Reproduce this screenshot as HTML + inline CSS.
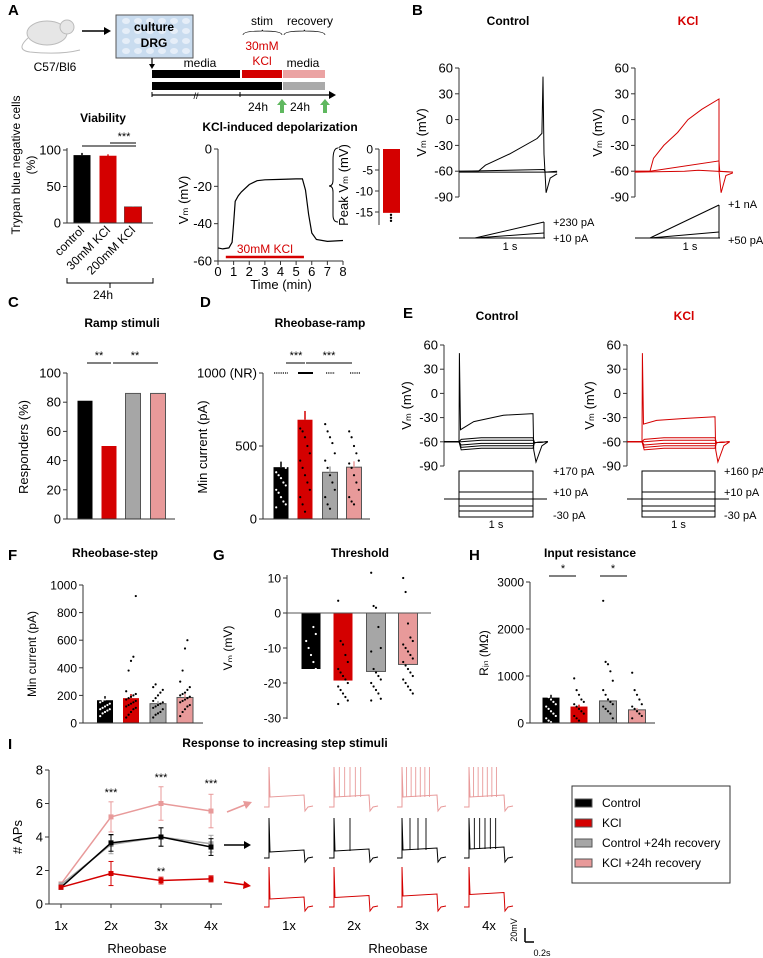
<!DOCTYPE html>
<html><head><meta charset="utf-8"><style>
html,body{margin:0;padding:0;background:#fff;}
svg{display:block;font-family:"Liberation Sans",Arial,sans-serif;}
</style></head><body>
<svg id="fig" width="763" height="958" viewBox="0 0 763 958" xmlns="http://www.w3.org/2000/svg"></svg>
<script>
// ---------- data ----------
const viabCats=['control','30mM KCl','200mM KCl'];
const viabVals=[93,92,22];
const viabErr=[3,2,1];
const depTime=[0,0.3,0.7,0.9,1.0,1.1,1.3,1.5,2,2.5,3,4,5,5.4,5.6,5.8,6,6.3,7,8];
const depVm=[-53,-53.5,-53,-50,-40,-28,-25,-23,-19,-17,-16.5,-16.3,-16,-16,-22,-35,-45,-48.5,-49.5,-49];
const peakVm=[-15.2];
const rampResp=[81,50,86,86];
const rheoRampVals=[355,680,320,355];
const rheoRampDots=[[640,600,400,380,350,320,300,280,250,230,200,180,150,120,100,80],[620,600,560,500,450,400,350,300,250,200,150,100,50],[650,600,560,520,450,400,350,300,250,200,150,100,70],[600,560,500,450,400,380,350,300,250,200,150,120,100]];
const rheoStepVals=[165,180,140,185];
const rheoStepDots=[[50,70,80,90,100,100,110,120,130,140,150,160,170,180,190,200,220,240,260,280,750,850],[40,60,80,100,110,120,130,140,150,160,170,180,190,200,210,230,380,450,480,920],[40,60,70,80,100,110,120,130,140,150,160,180,200,220,240,260,280],[50,80,100,120,130,150,160,170,180,190,200,210,220,240,260,300,380,540,600]];
const threshVals=[-16,-19.3,-16.7,-14.7];
const threshDots=[[8.5,7.5,1.5,-4,-6,-8,-10,-12,-14,-16,-17,-18,-19,-20,-20.5,-21,-22,-23,-24,-24.5],[3.5,-8,-9,-12,-14,-16,-17,-18,-19,-20,-21,-22,-23,-24,-25,-26],[11.5,2,1.5,-4,-10,-11,-16,-17,-18,-19,-20,-21,-22,-23,-24.5,-25],[10,6,-3,-7,-8,-9,-10,-11,-12,-13,-14,-15,-16,-17,-18,-19,-20,-21,-22,-23]];
const rinVals=[540,350,470,280];
const rinDots=[[1550,1050,1000,850,800,600,550,500,450,400,350,300,250,200,150,100,50,20],[950,700,600,500,450,400,350,300,250,200,150,100,50],[2600,1300,1250,1100,900,700,600,500,450,400,350,300,250,200,100],[1070,700,600,500,400,350,300,250,200,150,100]];
const apCats=['1x','2x','3x','4x'];
const apPink=[1.2,5.2,6.0,5.55], apPinkErr=[0.1,0.9,1.0,1.0];
const apBlack=[1.0,3.65,4.0,3.4], apBlackErr=[0.1,0.5,0.55,0.5];
const apGrey=[1.15,3.55,4.0,3.6], apGreyErr=[0.1,0.55,0.55,0.5];
const apRed=[1.0,1.82,1.4,1.5], apRedErr=[0.1,0.72,0.2,0.18];
const spikePink=[1,6,7,7], spikeBlack=[1,2,4,6], spikeRed=[1,1,1,1];
const COLORS=['#000','#d40000','#a6a6a6','#e89a9a'];

// ---------- helpers ----------
const NS='http://www.w3.org/2000/svg';
const svg=document.getElementById('fig');
function mk(tag,attrs,name,parent){
  const el=document.createElementNS(NS,tag);
  for(const k in attrs) el.setAttribute(k,attrs[k]);
  
  
  (parent||svg).appendChild(el); return el;
}
function T(x,y,s,name,o={}){
  const a={x:x,y:y,'font-size':o.size||12,fill:o.fill||'#000','text-anchor':o.anchor||'middle'};
  if(o.bold)a['font-weight']='bold';
  if(o.rot!==undefined)a.transform='rotate('+o.rot+' '+x+' '+y+')';
  const el=mk('text',a,name);
  el.textContent=s; return el;
}
function L(x1,y1,x2,y2,name,stroke,w){return mk('line',{x1:x1,y1:y1,x2:x2,y2:y2,stroke:stroke||'#000','stroke-width':w||1},name);}
function R(x,y,w,h,fill,name,stroke){return mk('rect',{x:x,y:y,width:w,height:h,fill:fill,stroke:stroke||'none'},name);}
function lin(d0,d1,r0,r1){return v=>r0+(v-d0)*(r1-r0)/(d1-d0);}
function P(pts,name,stroke,w){return mk('polyline',{points:pts.map(p=>p[0].toFixed(1)+','+p[1].toFixed(1)).join(' '),fill:'none',stroke:stroke,'stroke-width':w||1},name);}
function yaxis(x,y0,y1,ticks,sc,name,size,labels){
  L(x,y0,x,y1,name+'-line','#333');
  ticks.forEach((t,i)=>{L(x-4,sc(t),x,sc(t),name+'-tick','#333');
    T(x-6,sc(t)+4.5,labels?labels[i]:String(t),name+'-label',{anchor:'end',size:size||13});});
}
function dots(cx,vals,sc,name,fill){
  vals.forEach((v,i)=>{const off=((i%5)-2)*2.4;
    mk('circle',{cx:cx+off,cy:sc(v),r:1.1,fill:fill},name);});
}
function barPanel(o){
  const sc=lin(o.v0,o.v1,o.p0,o.p1);
  const base=sc(o.base!==undefined?o.base:0);
  o.vals.forEach((v,i)=>{
    const y=Math.min(sc(v),base),h=Math.abs(sc(v)-base);
    R(o.centers[i]-o.w/2,y,o.w,h,COLORS[i],o.name+'-bar-'+i,i>1?'#555':'none');
    if(o.errs) L(o.centers[i],sc(v),o.centers[i],sc(v+o.errs[i]),o.name+'-error',COLORS[i],1.5);
    if(o.dots) dots(o.centers[i],o.dots[i],sc,o.name+'-dot',i===0?'#fff':'#000');
  });
  return sc;
}

// ---------- Panel A ----------
T(8,15,'A','panel-label-a',{bold:true,size:15,anchor:'start'});
mk('ellipse',{cx:47,cy:33,rx:20,ry:12,fill:'#e6e6e6',stroke:'#bbb'},'mouse-icon');
mk('circle',{cx:67,cy:27,r:7,fill:'#e6e6e6',stroke:'#bbb'},'mouse-head');
mk('path',{d:'M28 38 Q15 50 30 52 Q60 55 80 50',fill:'none',stroke:'#bbb'},'mouse-tail');
T(55,71,'C57/Bl6','mouse-strain-label',{size:12});
L(82,31,106,31,'arrow-mouse-culture','#000',1.5);
mk('polygon',{points:'111,31 104,27 104,35',fill:'#000'},'arrowhead');
R(116,15,77,43,'#c9dcef','culture-plate','#555');
for(let r=0;r<4;r++)for(let c=0;c<6;c++)mk('ellipse',{cx:126+c*12,cy:21+r*10,rx:4,ry:3,fill:'#e6eef8'},'well');
T(154,31,'culture','culture-label',{bold:true,size:12});
T(154,47,'DRG','drg-label',{bold:true,size:12});
L(152,58,152,66,'down-arrow','#000',1.2);
mk('polygon',{points:'152,69 149,64 155,64',fill:'#000'},'arrowhead');
T(262,25,'stim','stim-label',{size:12});T(310,25,'recovery','recovery-label',{size:12});
mk('path',{d:'M243 35 Q243 31 262 31 Q262 29 263 31 Q282 31 282 35',fill:'none',stroke:'#000','stroke-width':0.7},'brace-stim');
mk('path',{d:'M284 35 Q284 31 304 31 Q304 29 305 31 Q325 31 325 35',fill:'none',stroke:'#000','stroke-width':0.7},'brace-recovery');
T(262,50,'30mM','kcl-conc-label',{size:12,fill:'#d40000'});T(262,65,'KCl','kcl-label',{size:12,fill:'#d40000'});
T(200,67,'media','media-label',{size:12});T(303,67,'media','media-label-2',{size:12});
R(152,70,88,8,'#000','timeline-media');R(242,70,40,8,'#d40000','timeline-kcl');R(283,70,42,8,'#eba3a3','timeline-recovery-kcl');
R(152,82,130,8,'#000','timeline-control');R(283,82,42,8,'#aaa','timeline-recovery-control');
L(152,95,330,95,'timeline-axis','#000',1.3);mk('polygon',{points:'336,95 329,91 329,99',fill:'#000'},'arrowhead');
L(152,92,152,97,'timeline-tick');L(240,92,240,97,'timeline-tick');
T(196,99,'//','axis-break',{size:9});
T(258,111,'24h','24h-label',{size:12});T(300,111,'24h','24h-label-2',{size:12});
[282,325].forEach(x=>mk('polygon',{points:(x)+',99 '+(x-5)+',105 '+(x-2)+',105 '+(x-2)+',113 '+(x+2)+',113 '+(x+2)+',105 '+(x+5)+',105',fill:'#5fb85f'},'green-arrow'));

// Viability
T(103,122,'Viability','viability-title',{bold:true,size:12});
const scV=barPanel({v0:0,v1:100,p0:223,p1:150,vals:viabVals,errs:viabErr,centers:[82,108,133],w:17,name:'viability'});
R(99.5,scV(92),17,223-scV(92),'#d40000','viability-bar-1');R(124.5,scV(22),17,223-scV(22),'#d40000','viability-bar-2');
yaxis(67,148,223,[0,50,100],scV,'viability-y');
L(67,223,153,223,'viability-x-axis','#333');
viabCats.forEach((c,i)=>T([82,108,133][i]+3,231,c,'viability-x-label',{anchor:'end',size:12,rot:-45}));
L(82,146,136,146,'viability-sig-line');L(110,143,136,143,'viability-sig-line-2');
T(124,140,'***','viability-sig',{size:11});
T(20,165,'Trypan blue negative cells','viability-y-title',{size:12,rot:-90});
T(35,165,'(%)','viability-y-unit',{size:12,rot:-90});
mk('path',{d:'M67 278 L67 283 L153 283 L153 278 M110 283 L110 288',fill:'none',stroke:'#000'},'brace-24h');
T(103,299,'24h','viability-24h',{size:12});

// KCl depolarization
T(280,131,'KCl-induced depolarization','depolarization-title',{bold:true,size:12});
const dX=lin(0,8,218,343), dY=lin(0,-60,149,261);
yaxis(218,149,261,[0,-20,-40,-60],dY,'dep-y');
L(218,261,343,261,'dep-x-axis','#333');
for(let t=0;t<=8;t++){L(dX(t),261,dX(t),265,'dep-x-tick','#333');T(dX(t),276,String(t),'dep-x-label',{size:13});}
T(281,289,'Time (min)','dep-x-title',{size:13});
T(188,200,'Vₘ (mV)','dep-y-title',{size:13,rot:-90});
P(depTime.map((t,i)=>[dX(t),dY(depVm[i])]),'depolarization-trace','#000',1.2);
L(dX(0.5),257,dX(5.5),257,'kcl-application-bar','#d40000',2.5);
T(dX(3),253,'30mM KCl','kcl-application-label',{size:12,fill:'#d40000'});
const pY=lin(0,-15,149,212);
yaxis(379,149,225,[0,-5,-10,-15],pY,'peak-y',12);
R(383,149,17,pY(peakVm[0])-149,'#d40000','peak-bar');
[0,1,2].forEach(i=>mk('circle',{cx:391,cy:pY(peakVm[0])+2+i*3,r:1.2,fill:'#000'},'peak-dot'));
T(348,185,'Peak Vₘ (mV)','peak-y-title',{size:13,rot:-90});
mk('path',{d:'M338 148 Q333 148 333 160 L333 180 Q333 186 329 186 Q333 186 333 192 L333 215 Q333 222 338 222',fill:'none',stroke:'#000'},'peak-brace');

// ---------- Panel B ----------
T(412,15,'B','panel-label-b',{bold:true,size:15,anchor:'start'});
function tracePanel(o){
  const y=lin(60,-90,o.top,o.bot);
  yaxis(o.ax,o.top,o.bot,[60,30,0,-30,-60,-90],y,o.name+'-y');
  T(o.ax-33,(o.top+o.bot)/2,'Vₘ (mV)',o.name+'-y-title',{size:13,rot:-90});
  const x=lin(0,1,o.x0,o.x1);
  o.traces.forEach(tr=>P(tr.map(p=>[x(p[0]),y(p[1])]),o.name+'-trace',o.color,1));
  return x;
}
T(508,25,'Control','b-control-title',{bold:true,size:12});
T(688,25,'KCl','b-kcl-title',{bold:true,size:12,fill:'#d40000'});
const bCtrl=[[[-0.23,-60],[0.05,-60],[0.15,-53],[0.5,-40],[0.9,-22],[0.97,-16],[0.985,50],[1.0,-40],[1.03,-85],[1.09,-68],[1.19,-63]],[[-0.23,-61],[1.19,-61]],[[-0.23,-60],[1.0,-58],[1.02,-61],[1.19,-60]]];
tracePanel({ax:459,top:68,bot:197,x0:475,x1:544,traces:bCtrl,color:'#000',name:'b-control'});
const bKcl=[[[-0.22,-60],[0,-60],[0.05,-45],[0.2,-30],[0.4,-15],[0.55,0],[0.75,12],[1.0,24],[1.0,-60],[1.03,-85],[1.1,-65],[1.2,-62]],[[-0.22,-60],[0,-60],[1,-48],[1.01,-60],[1.2,-61]],[[-0.22,-61],[0.5,-60],[0.7,-59],[1.2,-61]]];
tracePanel({ax:635,top:68,bot:197,x0:650,x1:719,traces:bKcl,color:'#d40000',name:'b-kcl'});
// ramp schematics
L(459,238,545,238,'ramp-baseline');L(475,238,544,222,'ramp-high');L(475,238,544,233,'ramp-low');L(544,222,544,238,'ramp-end');
T(553,226,'+230 pA','ramp-label-high',{size:11,anchor:'start'});T(553,242,'+10 pA','ramp-label-low',{size:11,anchor:'start'});T(510,250,'1 s','ramp-duration',{size:11});
L(635,238,720,238,'ramp-baseline-kcl');L(650,238,719,205,'ramp-high-kcl');L(650,238,719,232,'ramp-low-kcl');L(719,205,719,238,'ramp-end-kcl');
T(728,208,'+1 nA','ramp-label-high-kcl',{size:11,anchor:'start'});T(728,244,'+50 pA','ramp-label-low-kcl',{size:11,anchor:'start'});T(690,250,'1 s','ramp-duration-kcl',{size:11});

// ---------- Panel C ----------
T(8,307,'C','panel-label-c',{bold:true,size:15,anchor:'start'});
T(122,327,'Ramp stimuli','ramp-title',{bold:true,size:12});
const scC=barPanel({v0:0,v1:100,p0:519,p1:373,vals:rampResp,centers:[85,109,133,158],w:15,name:'responders'});
yaxis(67,373,519,[0,20,40,60,80,100],scC,'responders-y');
L(67,519,175,519,'responders-x-axis','#333');
T(28,447,'Responders (%)','responders-y-title',{size:13,rot:-90});
L(87,363,111,363,'responders-sig-line');T(99,359,'**','responders-sig',{size:11});
L(113,363,158,363,'responders-sig-line-2');T(135,359,'**','responders-sig-2',{size:11});

// ---------- Panel D ----------
T(200,307,'D','panel-label-d',{bold:true,size:15,anchor:'start'});
T(320,327,'Rheobase-ramp','rheobase-ramp-title',{bold:true,size:12});
const scD=barPanel({v0:0,v1:1000,p0:519,p1:373,vals:rheoRampVals,errs:[40,60,40,40],dots:rheoRampDots,centers:[281,305,330,354],w:15,name:'rheobase-ramp'});
yaxis(263,373,519,[0,500,1000],scD,'rheobase-ramp-y',13,['0','500','1000 (NR)']);
L(263,519,370,519,'rheobase-ramp-x-axis','#333');
[[274,288],[298,313],[326,335],[350,360]].forEach((s,i)=>L(s[0],373,s[1],373,'nr-dots-'+i,'#000',i===1?2:1.2).setAttribute('stroke-dasharray',i===1?'':'1.2 1'));
T(207,447,'Min current (pA)','rheobase-ramp-y-title',{size:13,rot:-90});
L(286,363,305,363,'rheobase-ramp-sig-line');T(296,359,'***','rheobase-ramp-sig',{size:11});
L(306,363,352,363,'rheobase-ramp-sig-line-2');T(329,359,'***','rheobase-ramp-sig-2',{size:11});

// ---------- Panel E ----------
T(403,318,'E','panel-label-e',{bold:true,size:15,anchor:'start'});
T(497,320,'Control','e-control-title',{bold:true,size:12});
T(684,320,'KCl','e-kcl-title',{bold:true,size:12,fill:'#d40000'});
function stepTraces(top,plat){
  const tr=[[[-0.2,-60],[0,-60],[0.005,50],[0.02,top],[0.2,top+(plat-top)*0.5],[0.6,plat-2],[1,plat],[1.01,-70],[1.04,-85],[1.12,-65],[1.2,-60]]];
  [-55,-58,-62,-65,-68].forEach(l=>tr.push([[-0.2,-60],[0,-60],[0.03,l-2],[0.3,l],[1,l],[1.02,-61],[1.2,-60]]));
  return tr;
}
tracePanel({ax:444,top:345,bot:466,x0:459,x1:533,traces:stepTraces(-45,-25),color:'#000',name:'e-control'});
tracePanel({ax:627,top:345,bot:466,x0:642,x1:715,traces:stepTraces(-38,-29),color:'#d40000',name:'e-kcl'});
function stepSchem(x0,x1,lab,xl,nm){
  L(x0-15,499,x1+14,499,nm+'-baseline');
  R(x0,471,x1-x0,46,'none',nm+'-box','#000');
  [492,506,511].forEach(y=>L(x0,y,x1,y,nm+'-step'));
  T(xl,475,lab,nm+'-label-top',{size:11,anchor:'start'});T(xl,496,'+10 pA',nm+'-label-mid',{size:11,anchor:'start'});T(xl,519,'-30 pA',nm+'-label-low',{size:11,anchor:'start'});
  T((x0+x1)/2,528,'1 s',nm+'-duration',{size:11});
}
stepSchem(459,533,'+170 pA',553,'step-control');stepSchem(642,715,'+160 pA',724,'step-kcl');

// ---------- Panel F ----------
T(8,560,'F','panel-label-f',{bold:true,size:15,anchor:'start'});
T(115,557,'Rheobase-step','rheobase-step-title',{bold:true,size:12});
const scF=barPanel({v0:0,v1:1000,p0:723,p1:585,vals:rheoStepVals,errs:[30,30,20,25],dots:rheoStepDots,centers:[105,131,158,185],w:16,name:'rheobase-step'});
yaxis(83,585,723,[0,200,400,600,800,1000],scF,'rheobase-step-y',12);
L(83,723,203,723,'rheobase-step-x-axis','#333');
T(36,654,'Min current (pA)','rheobase-step-y-title',{size:12,rot:-90});

// ---------- Panel G ----------
T(213,560,'G','panel-label-g',{bold:true,size:15,anchor:'start'});
T(360,557,'Threshold','threshold-title',{bold:true,size:12});
const scG=barPanel({v0:0,v1:10,p0:613,p1:578,vals:threshVals,dots:threshDots,centers:[311,343,376,408],w:19,name:'threshold'});
yaxis(287,575,719,[10,0,-10,-20,-30],scG,'threshold-y',12);
L(287,613,431,613,'threshold-zero-line','#555');
T(232,648,'Vₘ (mV)','threshold-y-title',{size:12,rot:-90});

// ---------- Panel H ----------
T(469,560,'H','panel-label-h',{bold:true,size:15,anchor:'start'});
T(590,557,'Input resistance','rin-title',{bold:true,size:12});
const scH=barPanel({v0:0,v1:3000,p0:723,p1:582,vals:rinVals,errs:[60,40,60,40],dots:rinDots,centers:[551,579,608,637],w:17,name:'rin'});
yaxis(530,582,723,[0,1000,2000,3000],scH,'rin-y',12);
L(530,723,655,723,'rin-x-axis','#333');
T(488,653,'Rᵢₙ (MΩ)','rin-y-title',{size:12,rot:-90});
L(549,576,576,576,'rin-sig-line');T(563,572,'*','rin-sig',{size:11});
L(600,576,627,576,'rin-sig-line-2');T(613,572,'*','rin-sig-2',{size:11});

// ---------- Panel I ----------
T(8,749,'I','panel-label-i',{bold:true,size:15,anchor:'start'});
T(285,747,'Response to increasing step stimuli','i-title',{bold:true,size:12});
const iX=i=>61+i*50, iY=lin(0,8,904,770);
yaxis(49,770,904,[0,2,4,6,8],iY,'aps-y',13);
L(49,904,222,904,'aps-x-axis','#333');
apCats.forEach((c,i)=>{L(iX(i),904,iX(i),908,'aps-x-tick','#333');T(iX(i),930,c,'aps-x-label',{size:13});});
T(137,953,'Rheobase','aps-x-title',{size:13});
T(22,837,'# APs','aps-y-title',{size:13,rot:-90});
function series(vals,errs,col,nm){
  P(vals.map((v,i)=>[iX(i),iY(v)]),nm+'-line',col,1.5);
  vals.forEach((v,i)=>{L(iX(i),iY(v-errs[i]),iX(i),iY(v+errs[i]),nm+'-error',col,1);
    L(iX(i)-2.5,iY(v+errs[i]),iX(i)+2.5,iY(v+errs[i]),nm+'-cap',col);L(iX(i)-2.5,iY(v-errs[i]),iX(i)+2.5,iY(v-errs[i]),nm+'-cap',col);
    R(iX(i)-2.5,iY(v)-2.5,5,5,col,nm+'-point');});
}
series(apPink,apPinkErr,'#e89a9a','kcl-recovery');series(apGrey,apGreyErr,'#a6a6a6','control-recovery');
series(apBlack,apBlackErr,'#000','control');series(apRed,apRedErr,'#d40000','kcl');
T(iX(1),796,'***','sig-2x',{size:11});T(iX(2),781,'***','sig-3x',{size:11});T(iX(3),787,'***','sig-4x',{size:11});T(iX(2),875,'**','sig-kcl-3x',{size:11});
// arrows
L(227,812,247,804,'arrow-pink','#e89a9a',1.5);mk('polygon',{points:'252,802 243,801 246,809',fill:'#e89a9a'},'arrowhead');
L(224,845,246,845,'arrow-black','#000',1.5);mk('polygon',{points:'251,845 244,841 244,849',fill:'#000'},'arrowhead');
L(224,882,246,885,'arrow-red','#d40000',1.5);mk('polygon',{points:'251,886 244,881 243,889',fill:'#d40000'},'arrowhead');
// example traces
const colX=[264,329,397,464];
function exTrace(x0,base,n,col,plat,nm){
  const w=40,pts=[[x0,base],[x0+5,base],[x0+5,base-40],[x0+6,base-plat],[x0+w,base-plat-2],[x0+w+1,base+4],[x0+w+4,base],[x0+w+9,base-1]];
  P(pts,nm,col,1);
  for(let k=1;k<n;k++){const sx=x0+5+k*(w-8)/(n);L(sx,base-plat,sx,base-40,nm+'-spike',col,0.9);}
}
colX.forEach((x,i)=>{exTrace(x,807,spikePink[i],'#e89a9a',10,'trace-kcl-recovery');exTrace(x,858,spikeBlack[i],'#000',6+i,'trace-control');exTrace(x,907,spikeRed[i],'#d40000',8+i*1.5,'trace-kcl');});
['1x','2x','3x','4x'].forEach((c,i)=>T(colX[i]+25,930,c,'trace-x-label',{size:13}));
T(398,953,'Rheobase','trace-x-title',{size:13});
L(525,928,525,942,'scale-bar-v','#000',1.5);L(525,942,534,942,'scale-bar-h','#000',1.5);
T(517,930,'20mV','scale-mv',{size:9,rot:-90});T(542,956,'0.2s','scale-s',{size:9});
// legend
R(572,786,158,97,'#fff','legend-box','#333');
const legLabels=['Control','KCl','Control +24h recovery','KCl +24h recovery'];
legLabels.forEach((s,i)=>{R(575,799+i*20,17,8,COLORS[i],'legend-swatch-'+i,'#555');T(602,807+i*20,s,'legend-entry-'+i,{size:12,anchor:'start'});});
</script>
</body></html>
